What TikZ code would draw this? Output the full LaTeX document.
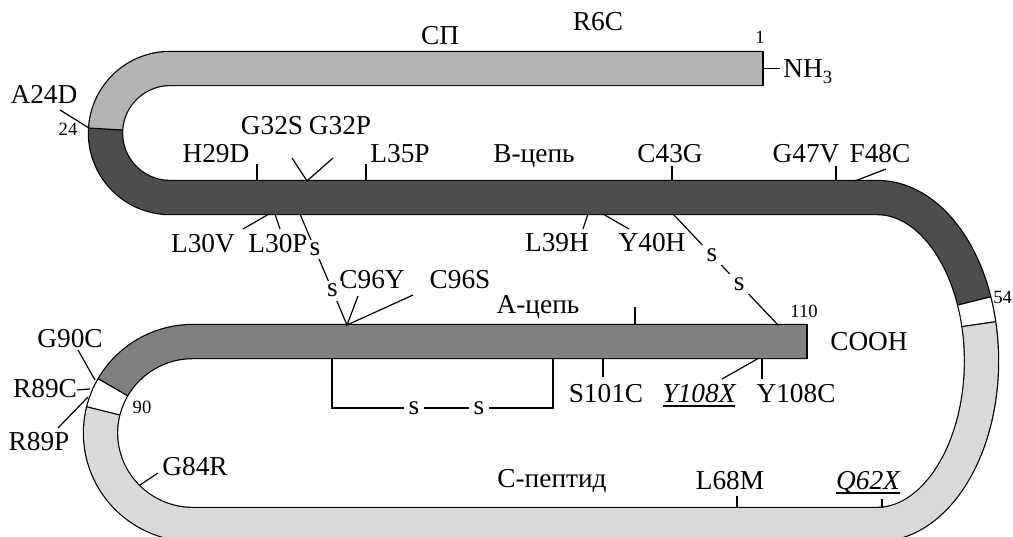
\documentclass[tikz,border=0pt]{standalone}
\usepackage{fontspec}
\setmainfont{Liberation Serif}
\newcommand\ulbox[1]{\setbox0\hbox{#1}\rlap{\rule[-3.6pt]{\wd0}{1.1pt}}\box0}
\definecolor{spcol}{RGB}{179,179,179}
\definecolor{bcol}{RGB}{77,77,77}
\definecolor{acol}{RGB}{128,128,128}
\definecolor{ccol}{RGB}{217,217,217}
\begin{document}
\begin{tikzpicture}[x=0.75pt,y=0.75pt,
  lbl/.style={font=\fontsize{20.5}{24}\selectfont, inner sep=0pt, anchor=base},
  num/.style={font=\fontsize{14}{16}\selectfont, inner sep=0pt, anchor=base},
  tick/.style={line width=0.9pt},
  bond/.style={line width=1.8pt},
  ss/.style={font=\fontsize{20.5}{24}\selectfont, fill=white, inner xsep=3.5pt, inner ysep=2.5pt},
  band/.style={line width=24.75pt},
  edge/.style={line width=0.9pt}]
\useasboundingbox (0,0) rectangle (1013,-536);

% black underlay of the whole ribbon (gives the outline)
\draw[line width=26.55pt] (763,-68.5) -- (170,-68.5)
  arc[start angle=90,end angle=270,radius=64.5] -- (877,-197.5)
  arc[start angle=90,end angle=-90,x radius=104.5,y radius=163.5] -- (193,-524.5)
  arc[start angle=270,end angle=90,x radius=92.5,y radius=91.5] -- (807,-341.5);

% signal peptide
\draw[band,spcol] (763,-68.5) -- (170,-68.5)
  arc[start angle=90,end angle=176.5,radius=64.5];
% B chain
\draw[band,bcol] ([shift={(170,-133)}]176.5:64.5)
  arc[start angle=176.5,end angle=270,radius=64.5] -- (877,-197.5)
  arc[start angle=90,end angle=21.5,x radius=104.5,y radius=163.5];
% linker 54
\draw[band,white] ([shift={(877,-361)}]21.5:104.5 and 163.5)
  arc[start angle=21.5,end angle=13,x radius=104.5,y radius=163.5];
% C peptide
\draw[band,ccol] ([shift={(877,-361)}]13:104.5 and 163.5)
  arc[start angle=13,end angle=-90,x radius=104.5,y radius=163.5] -- (193,-524.5)
  arc[start angle=270,end angle=166,x radius=92.5,y radius=91.5];
% linker 89-90
\draw[band,white] ([shift={(193,-433)}]166:92.5 and 91.5)
  arc[start angle=166,end angle=150,x radius=92.5,y radius=91.5];
% A chain
\draw[band,acol] ([shift={(193,-433)}]150:92.5 and 91.5)
  arc[start angle=150,end angle=90,x radius=92.5,y radius=91.5] -- (807,-341.5);

% segment boundaries and chain ends
\draw[edge] ([shift={(170,-133)}]176.5:47.5) -- ([shift={(170,-133)}]176.5:81.5);
\draw[edge] (990.2,-296.9) -- (958.2,-304.9);
\draw[edge] (995.1,-321.7) -- (962.5,-326.5);
\draw[edge] ([shift={(193,-433)}]150:109.5 and 108.5) -- ([shift={(193,-433)}]150:75.5 and 74.5);
\draw[edge] ([shift={(193,-433)}]166:109.5 and 108.5) -- ([shift={(193,-433)}]166:75.5 and 74.5);
\draw[edge] (763,-50.8) -- (763,-86.2);
\draw[edge] (807,-323.8) -- (807,-359.2);

% labels
\node[lbl] (sp) at (440,-44) {СП};
\node[lbl] (r6c) at (598,-30) {R6C};
\node[num] (n1) at (760,-43) {1};
\node[lbl,anchor=base west] (nh3) at (783,-77) {NH\raisebox{-5pt}{\fontsize{14}{14}\selectfont 3}};
\node[lbl] (a24d) at (44,-103) {A24D};
\node[num] (n24) at (68,-135) {24};
\node[lbl] (h29d) at (216,-162) {H29D};
\node[lbl] (g32s) at (272,-134) {G32S};
\node[lbl] (g32p) at (340,-134) {G32P};
\node[lbl] (l35p) at (400,-162) {L35P};
\node[lbl] (bch) at (534,-162) {В-цепь};
\node[lbl] (c43g) at (670,-162) {C43G};
\node[lbl] (g47v) at (806,-162) {G47V};
\node[lbl] (f48c) at (880,-162) {F48C};
\node[lbl] (l30v) at (203,-252) {L30V};
\node[lbl] (l30p) at (278,-252) {L30P};
\node[lbl] (l39h) at (557,-251) {L39H};
\node[lbl] (y40h) at (652,-251) {Y40H};
\node[lbl] (c96y) at (372,-288) {C96Y};
\node[lbl] (c96s) at (460,-288) {C96S};
\node[lbl] (ach) at (538,-313) {А-цепь};
\node[num] (n110) at (804,-317) {110};
\node[lbl,anchor=base west] (cooh) at (830,-350) {COOH};
\node[lbl] (s101c) at (606,-402) {S101C};
\node[lbl] (y108x) at (699,-402) {\ulbox{\itshape Y108X}};
\node[lbl] (y108c) at (796,-402) {Y108C};
\node[lbl] (g90c) at (70,-347) {G90C};
\node[lbl] (r89c) at (45,-397) {R89C};
\node[lbl] (r89p) at (39,-450) {R89P};
\node[num] (n90) at (142,-413) {90};
\node[lbl] (g84r) at (195,-475) {G84R};
\node[lbl] (cpep) at (552,-487) {С-пептид};
\node[lbl] (l68m) at (730,-489) {L68M};
\node[lbl] (q62x) at (868,-489) {\ulbox{\itshape Q62X}};
\node[num,anchor=base west] (n54) at (993,-303) {54};

% tick end points
\coordinate (nhA) at (763,-68.5);   \coordinate (nhB) at (780,-68.5);
\coordinate (a24A) at (60,-110);    \coordinate (a24B) at (89,-128);
\coordinate (h29A) at (257,-164);   \coordinate (h29B) at (257,-181);
\coordinate (g32V) at (307,-181);
\coordinate (g32L) at (292,-158);   \coordinate (g32R) at (333,-158);
\coordinate (l35A) at (366,-164);   \coordinate (l35B) at (366,-181);
\coordinate (c43A) at (672,-166);   \coordinate (c43B) at (672,-181);
\coordinate (g47A) at (836,-166);   \coordinate (g47B) at (836,-181);
\coordinate (f48A) at (886,-169);   \coordinate (f48B) at (855,-181);
\coordinate (l30vA) at (243,-229);  \coordinate (l30vB) at (269,-214);
\coordinate (l30pA) at (280,-229);  \coordinate (l30pB) at (275,-214);
\coordinate (l39A) at (583,-229);   \coordinate (l39B) at (588,-214);
\coordinate (y40A) at (629,-229);   \coordinate (y40B) at (603,-214);
\coordinate (ssLtop) at (300,-214); \coordinate (c96V) at (347,-325);
\coordinate (c96L) at (358,-296);   \coordinate (c96R) at (413,-295);
\coordinate (ssRtop) at (673,-214); \coordinate (ssRbot) at (778,-325);
\coordinate (aTa) at (635,-307);    \coordinate (aTb) at (635,-325);
\coordinate (s101A) at (603,-358);  \coordinate (s101B) at (603,-377);
\coordinate (y108xA) at (759,-358); \coordinate (y108xB) at (722,-379);
\coordinate (y108cA) at (762,-358); \coordinate (y108cB) at (762,-379);
\coordinate (g90A) at (78,-350);    \coordinate (g90B) at (95,-380);
\coordinate (r89cA) at (77,-390);   \coordinate (r89cB) at (90,-389);
\coordinate (r89pA) at (58,-428);   \coordinate (r89pB) at (88,-397);
\coordinate (g84A) at (140,-485);   \coordinate (g84B) at (158,-473);
\coordinate (l68A) at (737,-496);   \coordinate (l68B) at (737,-508);
\coordinate (q62A) at (882,-499);   \coordinate (q62B) at (882,-508);
\coordinate (brA) at (332,-357.5);  \coordinate (brB) at (332,-408);
\coordinate (brC) at (553,-408);    \coordinate (brD) at (553,-357.5);

% mutation ticks
\draw[tick] (nhA) -- (nhB);
\draw[tick] (a24A) -- (a24B);
\draw[tick] (h29A) -- (h29B);
\draw[tick] (g32L) -- (g32V) -- (g32R);
\draw[tick] (l35A) -- (l35B);
\draw[tick] (c43A) -- (c43B);
\draw[tick] (g47A) -- (g47B);
\draw[tick] (f48A) -- (f48B);
\draw[tick] (l30vA) -- (l30vB);
\draw[tick] (l30pA) -- (l30pB);
\draw[tick] (l39A) -- (l39B);
\draw[tick] (y40A) -- (y40B);
\draw[tick] (c96L) -- (c96V) -- (c96R);
\draw[tick] (aTa) -- (aTb);
\draw[tick] (s101A) -- (s101B);
\draw[tick] (y108xA) -- (y108xB);
\draw[tick] (y108cA) -- (y108cB);
\draw[tick] (g90A) -- (g90B);
\draw[tick] (r89cA) -- (r89cB);
\draw[tick] (r89pA) -- (r89pB);
\draw[tick] (g84A) -- (g84B);
\draw[tick] (l68A) -- (l68B);
\draw[tick] (q62A) -- (q62B);

% disulfide bridges
\draw[tick] (ssLtop) -- node[pos=.32,ss] (sL1) {s} node[pos=.69,ss] (sL2) {s} (c96V);
\draw[tick] (ssRtop) -- node[pos=.37,ss] (sR1) {s} node[pos=.63,ss] (sR2) {s} (ssRbot);
\draw[bond] (brA) -- (brB) -- (brC) -- (brD);
\node[ss] (sA1) at (414,-408) {s};
\node[ss] (sA2) at (479,-408) {s};
\end{tikzpicture}
\end{document}
